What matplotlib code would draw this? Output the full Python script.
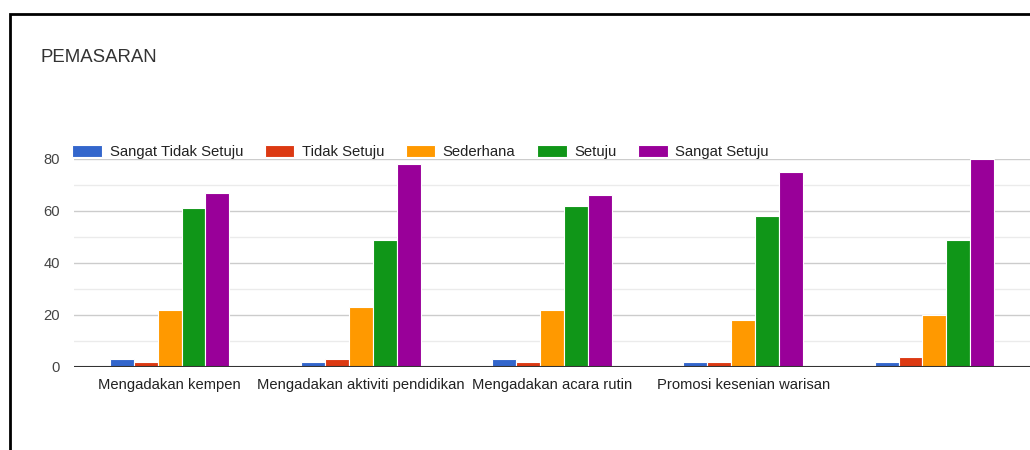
import numpy as np
import matplotlib
matplotlib.use("Agg")
import matplotlib.pyplot as plt
from matplotlib.patches import Rectangle

plt.rcParams['font.family'] = ['Liberation Sans', 'DejaVu Sans']

categories = ["Mengadakan kempen", "Mengadakan aktiviti pendidikan",
              "Mengadakan acara rutin", "Promosi kesenian warisan", ""]
series_names = ["Sangat Tidak Setuju", "Tidak Setuju", "Sederhana", "Setuju", "Sangat Setuju"]
sangat_tidak_setuju = [3, 2, 3, 2, 2]
tidak_setuju = [2, 3, 2, 2, 4]
sederhana = [22, 23, 22, 18, 20]
setuju = [61, 49, 62, 58, 49]
sangat_setuju = [67, 78, 66, 75, 80]
colors = ["#3366cc", "#dc3912", "#ff9900", "#109618", "#990099"]

W, H = 1030, 450
fig = plt.figure(figsize=(W / 100, H / 100), dpi=100)
fig.patch.set_facecolor("white")

# black frame around the chart (runs off the right/bottom edge)
fig.patches.append(Rectangle((10 / W, -0.05), 1.1, 1 - 14 / H + 0.05,
                             transform=fig.transFigure, fill=False,
                             edgecolor="black", linewidth=2, zorder=5))

fig.text(40 / W, 1 - 58 / H, "PEMASARAN", fontsize=13.4, color="#333333",
         ha="left", va="center")

ax = fig.add_axes([74 / W, 1 - 367 / H, 1 - 74 / W, (367 - 159) / H])
x = np.arange(len(categories))
bw = 0.125
data = [sangat_tidak_setuju, tidak_setuju, sederhana, setuju, sangat_setuju]
for i, vals in enumerate(data):
    ax.bar(x + (i - 2) * bw, vals, width=bw, color=colors[i],
           edgecolor="white", linewidth=0.8, label=series_names[i], zorder=3)

ax.set_xlim(-0.5, len(categories) - 0.5)
ax.set_ylim(0, 80)
ax.set_yticks([0, 20, 40, 60, 80])
ax.set_yticks([10, 30, 50, 70], minor=True)
ax.grid(axis="y", which="major", color="#cccccc", linewidth=1, zorder=0)
ax.grid(axis="y", which="minor", color="#ebebeb", linewidth=1, zorder=0)
ax.axhline(0, color="#333333", linewidth=1.5, zorder=4)
ax.set_xticks(x)
ax.set_xticklabels(categories, fontsize=10.6, color="#222222")
for s in ax.spines.values():
    s.set_visible(False)
ax.tick_params(axis="both", which="both", length=0)
ax.tick_params(axis="y", labelsize=10.6, labelcolor="#444444", pad=10)
ax.tick_params(axis="x", pad=8)

fig.legend(loc="center left", bbox_to_anchor=(65 / W, 1 - 152 / H), ncol=5,
           frameon=False, fontsize=10.7, handlelength=2.0, handleheight=0.85,
           handletextpad=0.5, columnspacing=1.45, borderpad=0,
           labelcolor="#222222")

fig.savefig("out.png", dpi=100, facecolor="white")
